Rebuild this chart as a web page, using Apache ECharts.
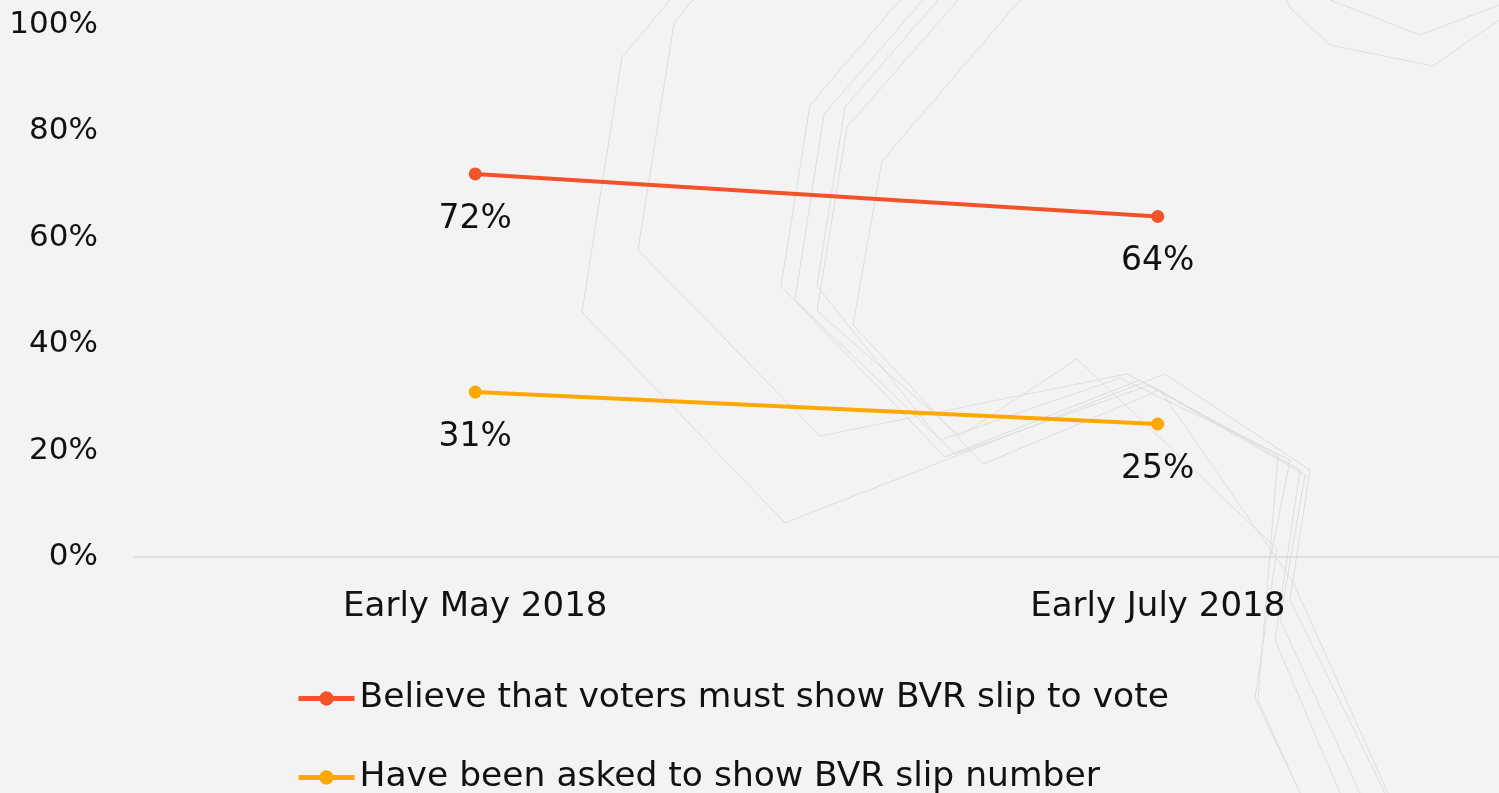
<!DOCTYPE html>
<html>
<head>
<meta charset="utf-8">
<script src="https://cdn.jsdelivr.net/npm/echarts@6/dist/echarts.min.js"></script>
<style>
    html, body { margin: 0; padding: 0; background: #f3f3f3; }
    #chart { width: 1499px; height: 793px; }
</style>
</head>
<body>
<div id="chart"></div>
<script>
var categories = ['Early May 2018', 'Early July 2018'];
var seriesNames = ['Believe that voters must show BVR slip to vote', 'Have been asked to show BVR slip number'];
var believeValues = [72, 64];
var askedValues = [31, 25];
var yTicks = [0, 20, 40, 60, 80, 100];

var font = '"DejaVu Sans", "Noto Sans", sans-serif';

// faint decorative strokes of the slide background (pixels, not data)
var deco = [
    [[670, 0], [622, 57], [582, 312], [785, 523], [1165, 374], [1310, 470], [1290, 600], [1385, 793]],
    [[693, 0], [674, 23], [638, 250], [820, 436], [1127, 374], [1278, 455], [1258, 700], [1300, 793]],
    [[900, 0], [810, 105], [781, 286], [945, 457], [1140, 380], [1305, 475], [1280, 620], [1360, 793]],
    [[923, 0], [824, 114], [795, 300], [955, 454], [1150, 385], [1300, 470], [1275, 640], [1340, 793]],
    [[938, 0], [845, 107], [817, 286], [940, 440], [1120, 378], [1290, 460], [1270, 560]],
    [[958, 0], [847, 127], [817, 311], [960, 436], [1077, 359], [1277, 549], [1255, 698], [1300, 793]],
    [[1020, 0], [882, 161], [853, 325], [983, 464], [1160, 390], [1293, 582], [1388, 793]],
    [[1287, 0], [1290, 8], [1330, 45], [1433, 66], [1499, 20]],
    [[1330, 0], [1420, 35], [1499, 5]]
];

var chart = echarts.init(document.getElementById('chart'));
chart.setOption({
    backgroundColor: '#f3f3f3',
    animation: false,
    graphic: deco.map(function (pts) {
        return {
            type: 'polyline',
            silent: true,
            z: -10,
            shape: { points: pts },
            style: { fill: null, stroke: '#dedede', lineWidth: 1 }
        };
    }),
    legend: {
        orient: 'vertical',
        left: 291,
        top: 676,
        height: 140,
        itemWidth: 56,
        itemHeight: 18,
        itemGap: 44,
        data: seriesNames,
        lineStyle: { width: 5 },
        textStyle: {
            fontFamily: font,
            fontSize: 34.5,
            lineHeight: 34,
            color: '#111'
        }
    },
    grid: {
        left: 134,
        right: -11,
        top: 25,
        bottom: 236,
        containLabel: false
    },
    xAxis: {
        type: 'category',
        data: categories,
        boundaryGap: true,
        axisLine: { lineStyle: { color: '#d9d9d9', width: 1.5 } },
        axisTick: { show: false },
        axisLabel: {
            margin: 33,
            fontFamily: font,
            fontSize: 34,
            color: '#111'
        }
    },
    yAxis: {
        type: 'value',
        min: 0,
        max: 100,
        interval: 20,
        axisLine: { show: false },
        axisTick: { show: false },
        splitLine: { show: false },
        axisLabel: {
            margin: 36,
            fontFamily: font,
            fontSize: 31,
            color: '#111',
            formatter: function (v) {
                return yTicks.indexOf(v) >= 0 ? v + '%' : '';
            }
        }
    },
    series: [
        {
            name: seriesNames[0],
            type: 'line',
            data: believeValues,
            symbol: 'circle',
            symbolSize: 13,
            color: '#f4532a',
            lineStyle: { width: 4 },
            label: {
                show: true,
                position: 'bottom',
                distance: 22,
                fontFamily: font,
                fontSize: 33,
                color: '#111',
                formatter: '{c}%'
            }
        },
        {
            name: seriesNames[1],
            type: 'line',
            data: askedValues,
            symbol: 'circle',
            symbolSize: 13,
            color: '#ffa800',
            lineStyle: { width: 4 },
            label: {
                show: true,
                position: 'bottom',
                distance: 22,
                fontFamily: font,
                fontSize: 33,
                color: '#111',
                formatter: '{c}%'
            }
        }
    ]
});
</script>
</body>
</html>
